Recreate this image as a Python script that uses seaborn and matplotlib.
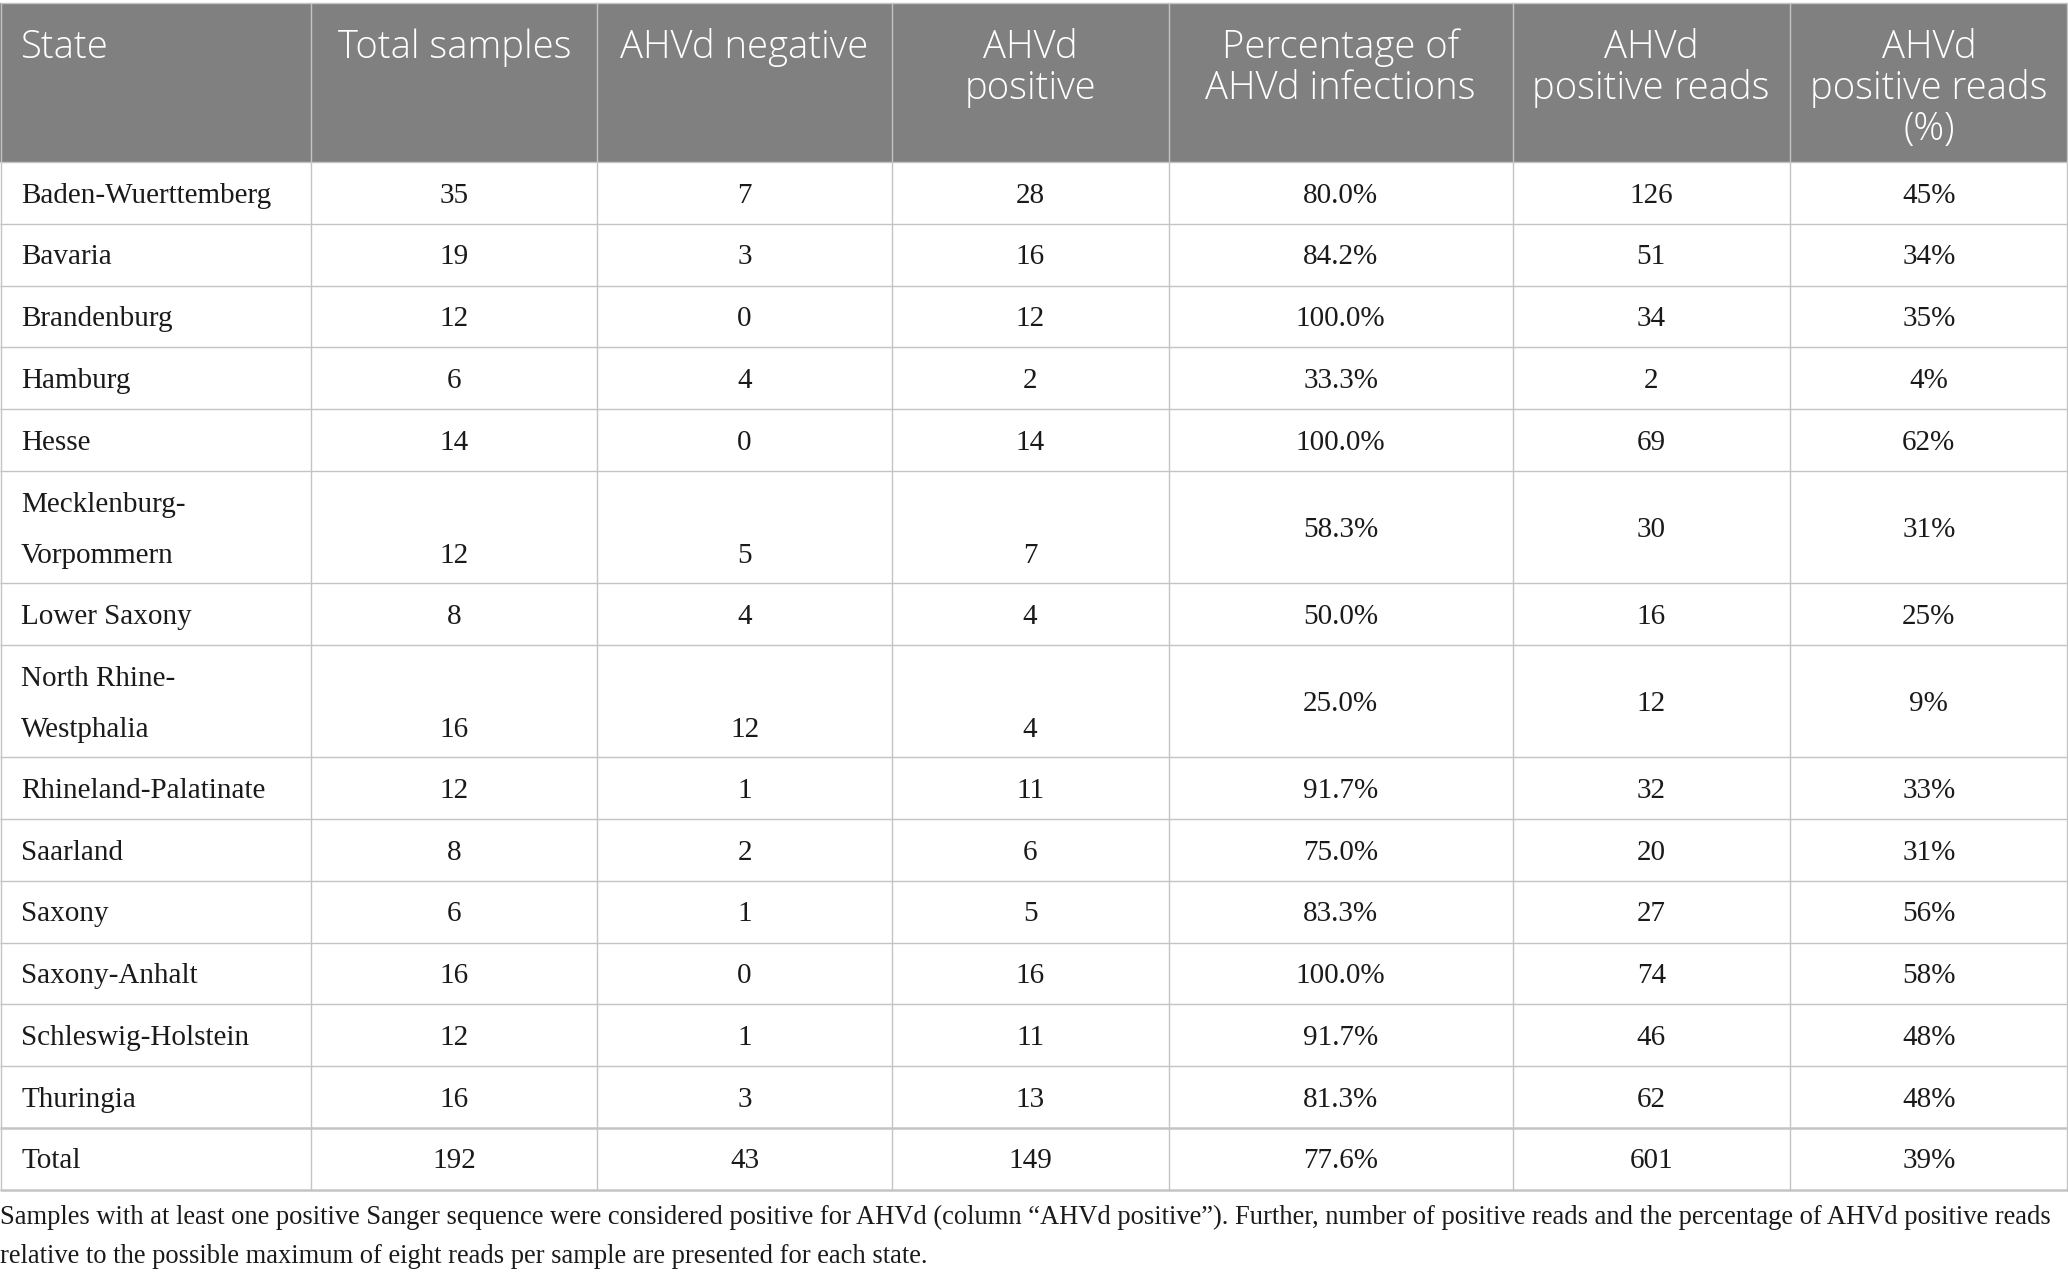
import matplotlib
matplotlib.use("Agg")
import matplotlib.pyplot as plt
import seaborn as sns

# table content
states = ["Baden-Wuerttemberg", "Bavaria", "Brandenburg", "Hamburg", "Hesse",
          "Mecklenburg-Vorpommern", "Lower Saxony", "North Rhine-Westphalia",
          "Rhineland-Palatinate", "Saarland", "Saxony", "Saxony-Anhalt",
          "Schleswig-Holstein", "Thuringia"]
total_samples = [35, 19, 12, 6, 14, 12, 8, 16, 12, 8, 6, 16, 12, 16]
ahvd_negative = [7, 3, 0, 4, 0, 5, 4, 12, 1, 2, 1, 0, 1, 3]
ahvd_positive = [28, 16, 12, 2, 14, 7, 4, 4, 11, 6, 5, 16, 11, 13]
pct_infections = [80.0, 84.2, 100.0, 33.3, 100.0, 58.3, 50.0, 25.0, 91.7, 75.0, 83.3, 100.0, 91.7, 81.3]
positive_reads = [126, 51, 34, 2, 69, 30, 16, 12, 32, 20, 27, 74, 46, 62]
pct_reads = [45, 34, 35, 4, 62, 31, 25, 9, 33, 31, 56, 58, 48, 48]
totals = ["Total", 192, 43, 149, 77.6, 601, 39]

headers = ["State", "Total samples", "AHVd negative", "AHVd\npositive",
           "Percentage of\nAHVd infections", "AHVd\npositive reads",
           "AHVd\npositive reads\n(%)"]
caption = ["Samples with at least one positive Sanger sequence were considered positive for AHVd "
           "(column \u201cAHVd positive\u201d). Further, number of positive reads and the percentage of AHVd positive reads",
           "relative to the possible maximum of eight reads per sample are presented for each state."]

sns.set_theme(style="white")
plt.rcParams["font.family"] = ["Liberation Serif", "DejaVu Serif"]

W, H = 1568, 960
fig = plt.figure(figsize=(20.68, 12.75), dpi=100)
ax = fig.add_axes([0, 0, 1, 1])
ax.set_xlim(0, W)
ax.set_ylim(H, 0)
ax.axis("off")

col_edges = [0, 236, 453, 676, 886, 1147, 1357, 1568]
centers = [(a + b) / 2 for a, b in zip(col_edges[:-1], col_edges[1:])]
header_top, header_bot = 2, 122
grid = "#c4c4c4"
head_bg = "#7f807f"
ink = "#1a1a1a"
body_fs = 21
head_fs = 27.5

# header
ax.add_patch(plt.Rectangle((0, header_top), W, header_bot - header_top, color=head_bg, lw=0))
for i, lab in enumerate(headers):
    for j, line in enumerate(lab.split("\n")):
        x = 16 if i == 0 else centers[i]
        ax.text(x, 36 + 31 * j, line, ha="left" if i == 0 else "center", va="center",
                color="white", fontsize=head_fs, fontweight="light",
                family=["Open Sans", "DejaVu Sans"])

# body rows
rows = []
for k in range(len(states)):
    rows.append([states[k], total_samples[k], ahvd_negative[k], ahvd_positive[k],
                 f"{pct_infections[k]:.1f}%", positive_reads[k], f"{pct_reads[k]}%"])
rows.append([totals[0], totals[1], totals[2], totals[3], f"{totals[4]:.1f}%", totals[5], f"{totals[6]}%"])

y = header_bot
h_lines = [header_top, header_bot]
for r, row in enumerate(rows):
    name = str(row[0])
    wrapped = len(name) > 20 and "-" in name
    h = 84.6 if wrapped else 46.5
    if wrapped:
        first, second = name.split("-", 1)
        ax.text(16, y + 26, first + "-", ha="left", va="center", color=ink, fontsize=body_fs)
        ax.text(16, y + 64, second, ha="left", va="center", color=ink, fontsize=body_fs)
    else:
        ax.text(16, y + h / 2 + 2, name, ha="left", va="center", color=ink, fontsize=body_fs)
    for c in range(1, 7):
        yy = y + 64 if (wrapped and c <= 3) else y + h / 2 + 2
        ax.text(centers[c], yy, str(row[c]), ha="center", va="center", color=ink, fontsize=body_fs)
    y += h
    h_lines.append(y)

for k, yl in enumerate(h_lines):
    lw = 1.8 if k >= len(h_lines) - 2 else 1.0
    ax.plot([0, W], [yl, yl], color=grid, lw=lw, solid_capstyle="butt")
for xe in col_edges:
    xx = min(max(xe, 0.6), W - 0.6)
    ax.plot([xx, xx], [header_top, h_lines[-1]], color=grid, lw=1.0)

for j, line in enumerate(caption):
    ax.text(0, 917 + 29 * j, line, ha="left", va="center", color=ink, fontsize=19.1)

fig.savefig("out.png", dpi=100)
